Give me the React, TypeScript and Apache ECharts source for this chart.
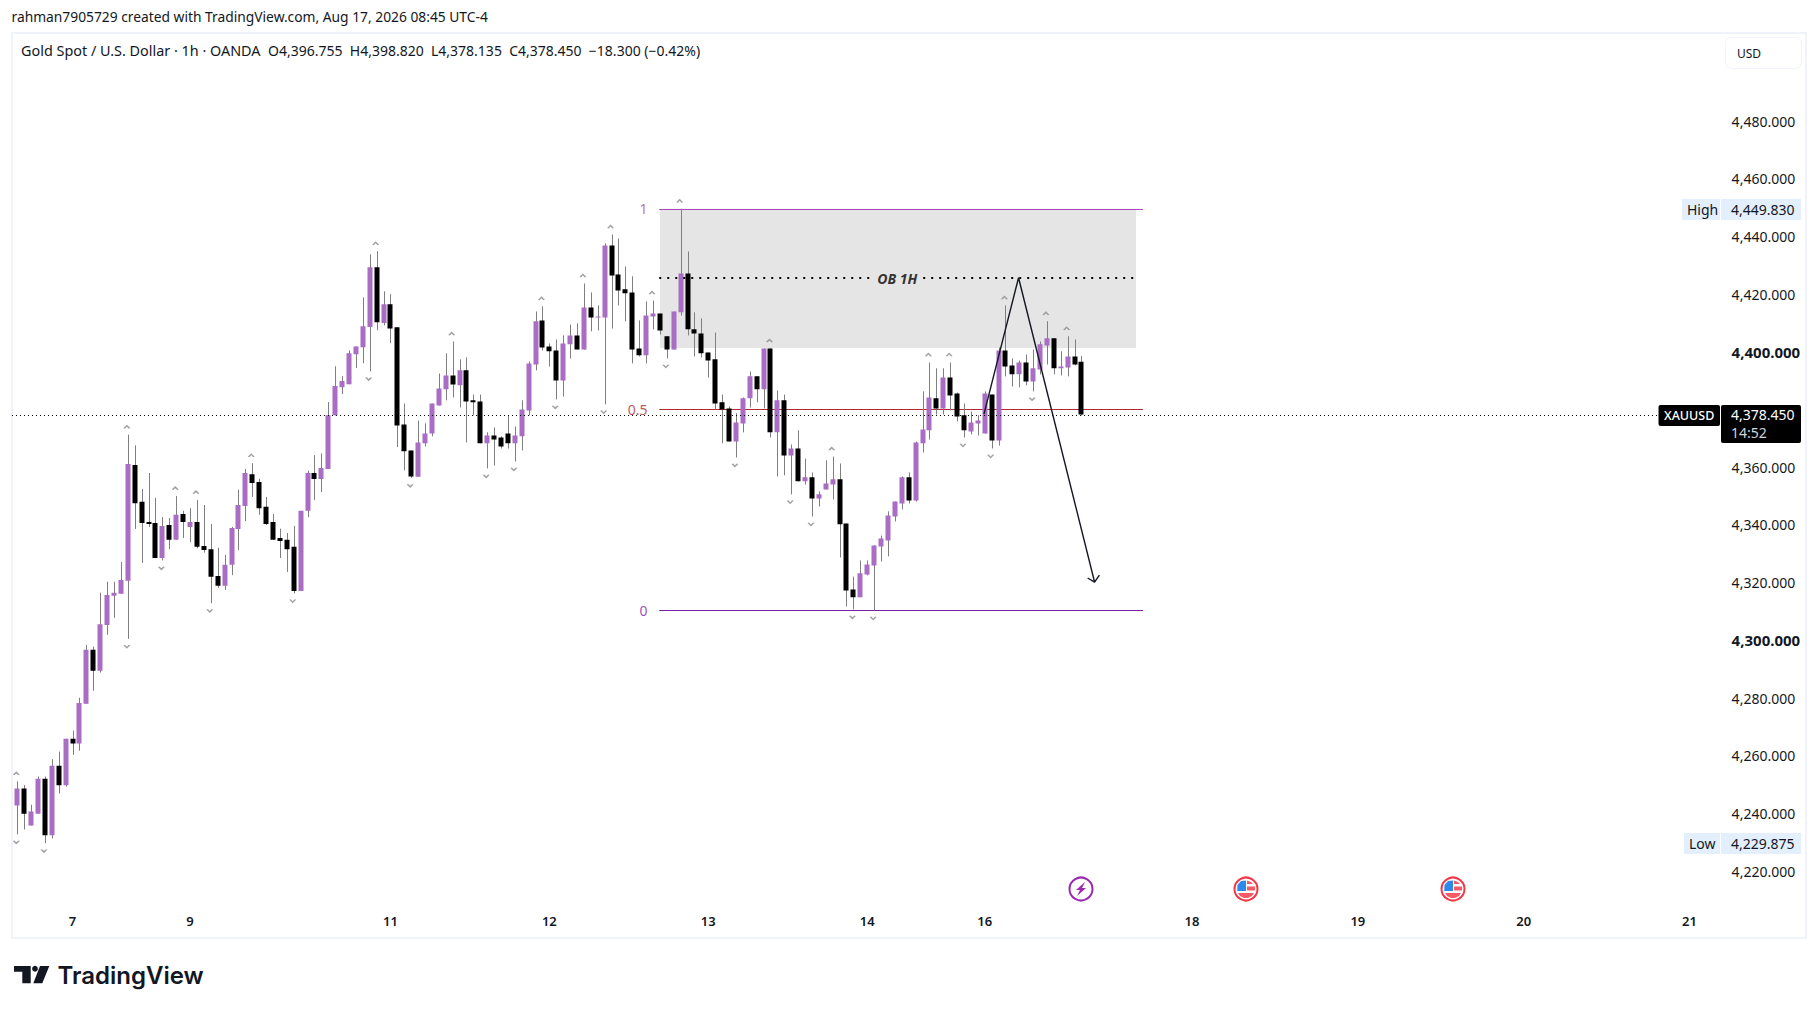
import React, { useEffect, useRef } from "react";
import * as echarts from "echarts";

const opens = [
  4242.9,4248.8,4236.0,4240.1,4252.2,4232.6,4256.7,4249.9,4266.1,4264.4,
  4278.2,4296.9,4289.6,4305.5,4315.6,4316.3,4320.8,4361.0,4348.2,4341.2,
  4340.9,4328.7,4340.2,4335.1,4344.0,4339.5,4341.2,4332.9,4331.8,4322.5,
  4319.1,4326.4,4338.8,4346.8,4357.8,4355.1,4346.5,4341.2,4335.7,4335.1,
  4332.6,4317.3,4345.1,4358.2,4356.1,4359.6,4378.2,4387.9,4389.0,4399.4,
  4401.8,4408.8,4429.5,4410.2,4416.7,
  4408.7,4375.0,4366.0,4356.9,4368.5,4371.9,4381.6,4387.2,4392.0,4388.6,
  4393.8,4383.4,4383.0,4368.5,4371.2,4370.5,4371.9,4368.5,4370.9,4379.9,
  4395.8,4411.1,4402.1,4400.7,4390.3,4402.8,4405.9,4401.0,4415.6,4412.1,
  4412.1,4437.1,4427.0,4421.9,4420.8,4401.4,4399.0,4412.5,4413.5,4405.6,
  4401.0,4413.9,4427.4,4408.0,4406.6,4400.0,4397.6,4382.7,4380.6,4369.1,
  4375.4,4384.1,4391.7,4387.2,4401.4,4372.3,4383.4,4364.3,4366.7,4355.3,
  4356.7,4349.4,4352.5,4354.2,4356.0,4340.7,4317.8,4315.1,4323.0,4326.1,
  4332.7,4334.8,4343.1,4347.6,4356.7,4348.7,4368.5,4373.0,4384.1,4380.6,
  4391.3,4385.8,4378.2,4372.6,4375.4,4371.9,4385.4,4369.5,4400.7,4395.5,
  4392.4,4396.5,4389.9,4394.1,4402.4,4404.9,4394.5,4394.8,4398.6,4396.755,
];
const closes = [
  4248.8,4240.1,4240.8,4252.2,4232.6,4256.7,4249.9,4266.1,4264.4,4278.5,
  4296.9,4289.6,4305.8,4315.9,4316.7,4321.1,4361.3,4347.7,4340.9,4340.5,
  4328.7,4339.8,4335.1,4343.7,4341.2,4341.2,4332.6,4331.5,4322.2,4319.1,
  4326.4,4339.1,4347.1,4358.2,4354.7,4346.0,4340.5,4335.1,4334.6,4331.8,
  4317.3,4345.1,4358.2,4356.1,4359.9,4378.2,4388.4,4390.1,4399.7,4402.1,
  4409.1,4429.5,4410.5,4416.7,4408.3,
  4374.7,4365.7,4357.0,4368.8,4371.9,4382.3,4387.5,4392.0,4388.9,4393.8,
  4383.0,4382.7,4368.5,4371.2,4369.8,4367.4,4368.5,4371.2,4380.2,4396.2,
  4410.8,4401.7,4400.4,4390.3,4403.1,4405.9,4401.0,4415.6,4412.1,4412.5,
  4437.1,4426.7,4421.5,4420.5,4401.0,4399.0,4412.8,4413.5,4407.6,4401.0,
  4414.2,4427.4,4408.0,4406.6,4399.7,4397.2,4382.3,4380.2,4369.1,4375.7,
  4384.1,4391.7,4387.2,4401.4,4372.3,4383.4,4364.3,4366.7,4355.3,4356.7,
  4349.4,4350.8,4354.6,4356.0,4340.4,4317.5,4315.1,4323.4,4326.5,4333.1,
  4335.5,4343.5,4348.3,4356.7,4348.7,4368.8,4373.3,4384.4,4380.6,4391.3,
  4385.1,4377.8,4373.0,4375.7,4376.4,4385.8,4369.5,4400.7,4395.1,4392.4,
  4396.5,4389.9,4394.5,4402.8,4404.9,4394.5,4395.1,4398.6,4395.8,4378.45,
];
const highs = [
  4251.3,4250.0,4243.2,4253.0,4253.0,4259.0,4261.6,4266.1,4268.9,4280.3,
  4298.6,4298.0,4316.7,4320.5,4320.5,4327.3,4371.5,4367.8,4352.7,4358.2,
  4349.6,4342.9,4342.6,4350.2,4345.1,4346.0,4348.8,4347.1,4340.5,4332.3,
  4329.8,4339.5,4352.4,4359.6,4361.6,4356.2,4349.9,4344.0,4338.9,4337.4,
  4339.8,4345.1,4359.0,4364.4,4365.0,4382.8,4395.2,4391.8,4400.7,4402.1,
  4419.1,4434.0,4435.1,4421.2,4420.2,
  4408.7,4382.3,4366.0,4376.4,4375.4,4382.3,4392.7,4399.7,4403.8,4397.6,
  4398.3,4385.4,4385.4,4372.3,4374.0,4370.9,4378.2,4374.3,4383.4,4396.9,
  4414.2,4416.0,4403.1,4404.5,4405.9,4409.7,4410.1,4423.9,4420.8,4416.3,
  4437.8,4440.9,4439.5,4429.8,4426.4,4411.1,4417.7,4418.0,4413.5,4405.6,
  4414.2,4449.83,4435.0,4413.9,4411.8,4400.0,4406.9,4385.4,4381.3,4378.9,
  4384.4,4393.4,4391.7,4401.4,4401.4,4386.8,4385.4,4368.1,4373.0,4363.2,
  4358.4,4351.8,4362.6,4363.9,4361.5,4340.7,4322.3,4327.9,4327.9,4333.1,
  4336.5,4344.9,4348.3,4357.0,4358.4,4369.1,4386.5,4396.5,4394.5,4394.5,
  4396.5,4386.1,4382.3,4379.5,4378.2,4386.5,4385.4,4401.7,4416.3,4397.9,
  4397.2,4399.3,4401.0,4403.8,4410.8,4404.9,4400.4,4405.6,4404.5,4398.82,
];
const lows = [
  4232.9,4234.6,4236.0,4240.1,4229.875,4231.5,4247.1,4249.4,4260.5,4261.9,
  4278.2,4282.7,4289.0,4302.1,4308.0,4316.3,4300.7,4338.8,4327.0,4339.5,
  4328.7,4327.9,4331.8,4335.1,4335.7,4334.3,4332.1,4330.6,4313.1,4318.4,
  4317.7,4322.8,4331.5,4341.5,4349.9,4343.7,4340.2,4335.1,4328.7,4323.9,
  4316.5,4317.3,4342.9,4348.8,4351.6,4359.6,4378.2,4385.6,4389.0,4394.6,
  4396.3,4393.5,4407.7,4409.4,4403.2,
  4367.2,4359.1,4356.5,4356.9,4367.4,4370.9,4381.6,4383.4,4384.4,4380.9,
  4368.8,4378.2,4368.5,4359.8,4360.8,4366.7,4366.7,4362.2,4366.0,4378.2,
  4393.8,4400.7,4395.1,4383.7,4384.7,4397.9,4401.0,4401.0,4407.3,4407.6,
  4382.0,4408.3,4416.3,4410.8,4396.2,4398.6,4396.2,4408.0,4406.2,4397.9,
  4401.0,4412.8,4405.9,4398.6,4398.3,4391.3,4380.2,4368.5,4369.1,4363.6,
  4372.3,4380.9,4382.7,4380.6,4370.5,4357.0,4357.4,4350.8,4355.3,4354.2,
  4343.1,4346.6,4352.5,4349.0,4328.9,4311.9,4310.9,4315.1,4322.7,4310.5,
  4327.5,4329.3,4341.4,4345.6,4347.6,4348.3,4365.3,4369.8,4378.5,4378.5,
  4379.9,4376.1,4370.5,4371.6,4371.2,4371.9,4366.7,4367.7,4391.7,4388.2,
  4387.9,4388.6,4386.5,4392.4,4395.8,4392.4,4392.0,4391.7,4395.5,4378.135,
];
const pivotHighBars = [0,16,23,26,34,52,63,76,82,86,92,96,109,118,132,135,143,149,152];
const pivotLowBars = [0,4,16,21,28,40,51,57,68,72,78,85,94,104,112,115,121,124,137,141,147];
const dayBars = [8,25,54,77,100,123,140,170,194,218,242];
const dayLabels = ["7","9","11","12","13","14","16","18","19","20","21"];
const barCount = 258;
const currentPrice = 4378.45;
const fibLevels = [
  { label: "1", price: 4449.83, color: "#ab47bc" },
  { label: "0.5", price: 4380.27, color: "#b22833" },
  { label: "0", price: 4310.7, color: "#7b1fa2" },
];
const zoneTop = 4449.83;
const zoneBottom = 4401.5;
const obPrice = 4425.7;
const boldTicks = [4300, 4400];
const hiddenTicks = [4200, 4380, 4500];

const FONT = "'Noto Sans', sans-serif";
const UP = "#aa6dc4";
const DOWN = "#000000";
const WICK = "#7f7f7f";
const TEXT = "#131722";

const categories = Array.from({ length: barCount }, (_, i) => {
  const k = dayBars.indexOf(i);
  return k >= 0 ? dayLabels[k] : "";
});

const money = (v: number) =>
  v.toLocaleString("en-US", { minimumFractionDigits: 3, maximumFractionDigits: 3 });

const chevronUp = "path://M0,4 L3.5,0 L7,4 L5.4,4.6 L3.5,2.4 L1.6,4.6 Z";
const chevronDown = "path://M0,0.6 L1.6,0 L3.5,2.2 L5.4,0 L7,0.6 L3.5,4.6 Z";

function lineSeries(data: number[][], color: string, width: number, type: any, z: number) {
  return {
    type: "line",
    xAxisIndex: 1,
    yAxisIndex: 0,
    data,
    showSymbol: false,
    symbol: "none",
    silent: true,
    clip: false,
    z,
    lineStyle: { color, width, type, cap: "butt" },
  };
}

// A horizontal rule snapped to the pixel grid, as TradingView draws them.
function ruleSeries(u1: number, u2: number, price: number, color: string, width: number, dash: number[] | null, z: number) {
  return {
    type: "custom",
    xAxisIndex: 1,
    yAxisIndex: 0,
    z,
    silent: true,
    clip: false,
    data: [[u1, u2, price]],
    renderItem: (_: any, api: any) => {
      const a = api.coord([api.value(0), api.value(2)]);
      const b = api.coord([api.value(1), api.value(2)]);
      const y = Math.round(a[1]) + (width % 2 ? 0.5 : 0);
      return {
        type: "line",
        shape: { x1: a[0], y1: y, x2: b[0], y2: y },
        style: { stroke: color, lineWidth: width, lineDash: dash || undefined },
      };
    },
  };
}

const tags = [
  { name: "High", price: 4449.83, value: "4,449.830" },
  { name: "Low", price: 4229.875, value: "4,229.875" },
];

const boxText = (x: number, yy: number, text: string, fill: string, extra: any = {}) => ({
  type: "text",
  style: { x, y: yy, text, fill, fontSize: 14, fontFamily: FONT, align: "left", verticalAlign: "middle", ...extra },
});

function tagRender(params: any, api: any) {
  const t = tags[params.dataIndex];
  const y = Math.round(api.coord([0, t.price])[1]);
  const left = t.name === "High" ? 1682 : 1684;
  return {
    type: "group",
    children: [
      { type: "rect", shape: { x: left, y: y - 10, width: 1720 - left, height: 21 }, style: { fill: "#e3effd" } },
      { type: "rect", shape: { x: 1721, y: y - 10, width: 80, height: 21 }, style: { fill: "#e3effd" } },
      boxText(left + 5, y, t.name, TEXT),
      boxText(1731, y, t.value, TEXT),
    ],
  };
}

function priceRender(params: any, api: any) {
  const y = Math.round(api.coord([0, currentPrice])[1]);
  return {
    type: "group",
    children: [
      { type: "rect", shape: { x: 1658.5, y: y - 10, width: 61.5, height: 21, r: 2 }, style: { fill: "#000" } },
      { type: "rect", shape: { x: 1721, y: y - 10, width: 80, height: 38, r: 2 }, style: { fill: "#000" } },
      boxText(1664, y, "XAUUSD", "#fff", { fontWeight: 500, fontSize: 12.5 }),
      boxText(1731, y - 1, money(currentPrice), "#fff"),
      boxText(1731, y + 17, "14:52", "#d1d4dc"),
    ],
  };
}

function flag(cx: number, cy: number) {
  return {
    type: "group",
    x: cx,
    y: cy,
    children: [
      { type: "circle", shape: { cx: 0, cy: 0, r: 11.5 }, style: { fill: "#fff", stroke: "#f23645", lineWidth: 2 } },
      { type: "polygon", shape: { points: [[-8.5, -4], [-5, -8], [0, -8.5], [0, 2], [-8.8, 2]] }, style: { fill: "#2d8ae8" } },
      { type: "polygon", shape: { points: [[1, -8.5], [5, -7], [7, -5], [1, -5]] }, style: { fill: "#f45b64" } },
      { type: "rect", shape: { x: 1, y: -2.5, width: 8, height: 4 }, style: { fill: "#f45b64" } },
      { type: "polygon", shape: { points: [[-8, 4], [8, 4], [6, 7], [2, 9], [-2, 9], [-6, 7]] }, style: { fill: "#f45b64" } },
    ],
  };
}

function headerText(x: number, y: number, text: string, size = 14, fill = TEXT, extra: any = {}) {
  return {
    type: "text",
    x,
    y,
    style: { text, fill, fontSize: size, fontFamily: FONT, textAlign: "left", textVerticalAlign: "middle", ...extra },
  };
}

export default function App() {
  const ref = useRef<HTMLDivElement>(null);
  useEffect(() => {
    document.body.style.margin = "0";
    const chart = echarts.init(ref.current!, undefined, { renderer: "svg" });
    const candleData = opens.map((o, i) => [o, closes[i], lows[i], highs[i]]);
    const option: any = {
      animation: false,
      backgroundColor: "#ffffff",
      grid: { left: 13.84, top: 64, width: 1782.78, height: 865.3, containLabel: false },
      xAxis: [
        {
          type: "category",
          data: categories,
          boundaryGap: true,
          axisLine: { show: false },
          axisTick: { show: false },
          splitLine: { show: false },
          axisLabel: {
            inside: true,
            margin: 2,
            interval: (_: number, v: string) => v !== "",
            color: TEXT,
            fontSize: 13,
            fontWeight: 600,
            fontFamily: FONT,
            hideOverlap: false,
          },
        },
        { type: "value", min: 0, max: barCount, show: false, splitLine: { show: false } },
      ],
      yAxis: [
        {
          type: "value",
          position: "right",
          min: 4200,
          max: 4500,
          interval: 20,
          axisLine: { show: false },
          axisTick: { show: false },
          splitLine: { show: false },
          axisLabel: {
            inside: true,
            margin: 65,
            align: "left",
            fontSize: 14,
            fontFamily: FONT,
            color: TEXT,
            padding: [0, 0, 1, 0],
            showMinLabel: false,
            showMaxLabel: false,
            formatter: (v: number) => {
              if (hiddenTicks.includes(v)) return "";
              return boldTicks.includes(v) ? `{b|${money(v)}}` : money(v);
            },
            rich: { b: { fontWeight: 700, fontSize: 15, fontFamily: FONT, color: TEXT } },
          },
        },
      ],
      graphic: [
        { type: "rect", shape: { x: 12, y: 33, width: 1794, height: 905 }, style: { fill: "none", stroke: "#f0f3fa", lineWidth: 2 }, z: -1 },
        headerText(11.5, 16.5, "rahman7905729 created with TradingView.com, Aug 17, 2026 08:45 UTC-4", 13.8),
        headerText(21, 50.5, "Gold Spot / U.S. Dollar · 1h · OANDA", 14.4),
        headerText(268, 50.5, "O4,396.755  H4,398.820  L4,378.135  C4,378.450  −18.300 (−0.42%)"),
        { type: "rect", shape: { x: 1725.5, y: 37.5, width: 76, height: 31, r: 6 }, style: { fill: "#fff", stroke: "#f0f3fa", lineWidth: 1 } },
        headerText(1737, 53, "USD", 12),
        {
          type: "group",
          x: 1081,
          y: 889,
          children: [
            { type: "circle", shape: { cx: 0, cy: 0, r: 11.5 }, style: { fill: "#fff", stroke: "#9c27b0", lineWidth: 2 } },
            { type: "polygon", shape: { points: [[4, -7], [-5, 1], [-1, 1], [-4, 7], [5, -1], [1, -1]] }, style: { fill: "#9c27b0" } },
          ],
        },
        flag(1246, 889),
        flag(1453, 889),
        { type: "polygon", shape: { points: [[14, 966], [30.7, 966], [30.7, 983.3], [22.3, 983.3], [22.3, 971.7], [14, 971.7]] }, style: { fill: "#131722" } },
        { type: "circle", shape: { cx: 35, cy: 968.7, r: 2.9 }, style: { fill: "#131722" } },
        { type: "polygon", shape: { points: [[40, 966], [49.3, 966], [42.3, 983.3], [33.3, 983.3]] }, style: { fill: "#131722" } },
        headerText(57.5, 975, "TradingView", 24, "#131722", { fontFamily: "Inter, sans-serif", fontWeight: 600 }),
      ],
      series: [
        {
          type: "custom",
          xAxisIndex: 1,
          yAxisIndex: 0,
          z: 1,
          silent: true,
          data: [[93.5, zoneTop, 162.4, zoneBottom]],
          renderItem: (_: any, api: any) => {
            const a = api.coord([api.value(0), api.value(1)]);
            const b = api.coord([api.value(2), api.value(3)]);
            return { type: "rect", shape: { x: a[0], y: a[1], width: b[0] - a[0], height: b[1] - a[1] }, style: { fill: "#e5e5e5" } };
          },
        },
        ...fibLevels.map((f) => ruleSeries(93.4, 163.4, f.price, f.color, 1, null, 2)),
        {
          type: "scatter",
          xAxisIndex: 1,
          yAxisIndex: 0,
          symbolSize: 0,
          z: 2,
          silent: true,
          data: fibLevels.map((f) => ({
            value: [91.7, f.price],
            label: { show: true, position: "left", distance: 0, formatter: f.label, color: f.color, fontSize: 14, fontFamily: FONT },
          })),
        },
        {
          type: "custom",
          xAxisIndex: 0,
          yAxisIndex: 0,
          z: 3,
          silent: true,
          data: highs.map((h, i) => [i, h, lows[i]]),
          renderItem: (_: any, api: any) => {
            const a = api.coord([api.value(0), api.value(1)]);
            const b = api.coord([api.value(0), api.value(2)]);
            const x = Math.round(a[0]) + 0.5;
            return { type: "line", shape: { x1: x, y1: a[1], x2: x, y2: b[1] }, style: { stroke: WICK, lineWidth: 1 } };
          },
        },
        {
          type: "candlestick",
          xAxisIndex: 0,
          yAxisIndex: 0,
          barWidth: 5.5,
          z: 4,
          silent: true,
          data: candleData,
          itemStyle: { color: UP, color0: DOWN, borderColor: "transparent", borderColor0: "transparent", borderWidth: 0 },
        },
        {
          type: "scatter",
          xAxisIndex: 0,
          yAxisIndex: 0,
          z: 4,
          silent: true,
          symbol: chevronUp,
          symbolSize: [7, 4],
          symbolOffset: [-1, -8],
          itemStyle: { color: "#8a8a8a" },
          data: pivotHighBars.map((i) => [i, highs[i]]),
        },
        {
          type: "scatter",
          xAxisIndex: 0,
          yAxisIndex: 0,
          z: 4,
          silent: true,
          symbol: chevronDown,
          symbolSize: [7, 4],
          symbolOffset: [-1, 8],
          itemStyle: { color: "#8a8a8a" },
          data: pivotLowBars.map((i) => [i, lows[i]]),
        },
        ruleSeries(-0.27, 237.9, currentPrice, "#000000", 1, [1, 3], 5),
        ruleSeries(93.4, 123.9, obPrice, "#000000", 2, [2, 6], 5),
        ruleSeries(131.6, 162.1, obPrice, "#000000", 2, [2, 6], 5),
        {
          type: "scatter",
          xAxisIndex: 1,
          yAxisIndex: 0,
          symbolSize: 0,
          z: 5,
          silent: true,
          data: [
            {
              value: [127.85, obPrice],
              label: { show: true, position: "inside", formatter: "OB 1H", color: "#000000", fontSize: 14, fontStyle: "italic", fontWeight: 700, fontFamily: FONT },
            },
          ],
        },
        lineSeries([[140.4, 4378.7], [145.4, 4425.9], [156.4, 4320.4]], "#131722", 1.4, "solid", 6),
        lineSeries([[155.4, 4321.8], [156.4, 4320.4], [157.1, 4322.8]], "#131722", 1.4, "solid", 6),
        { type: "custom", xAxisIndex: 1, yAxisIndex: 0, z: 7, silent: true, data: tags.map((t) => [0, t.price]), renderItem: tagRender },
        { type: "custom", xAxisIndex: 1, yAxisIndex: 0, z: 7, silent: true, data: [[0, currentPrice]], renderItem: priceRender },
      ],
    };
    chart.setOption(option);
    return () => chart.dispose();
  }, []);
  return <div ref={ref} style={{ position: "fixed", left: 0, top: 0, width: 1818, height: 1011 }} />;
}
